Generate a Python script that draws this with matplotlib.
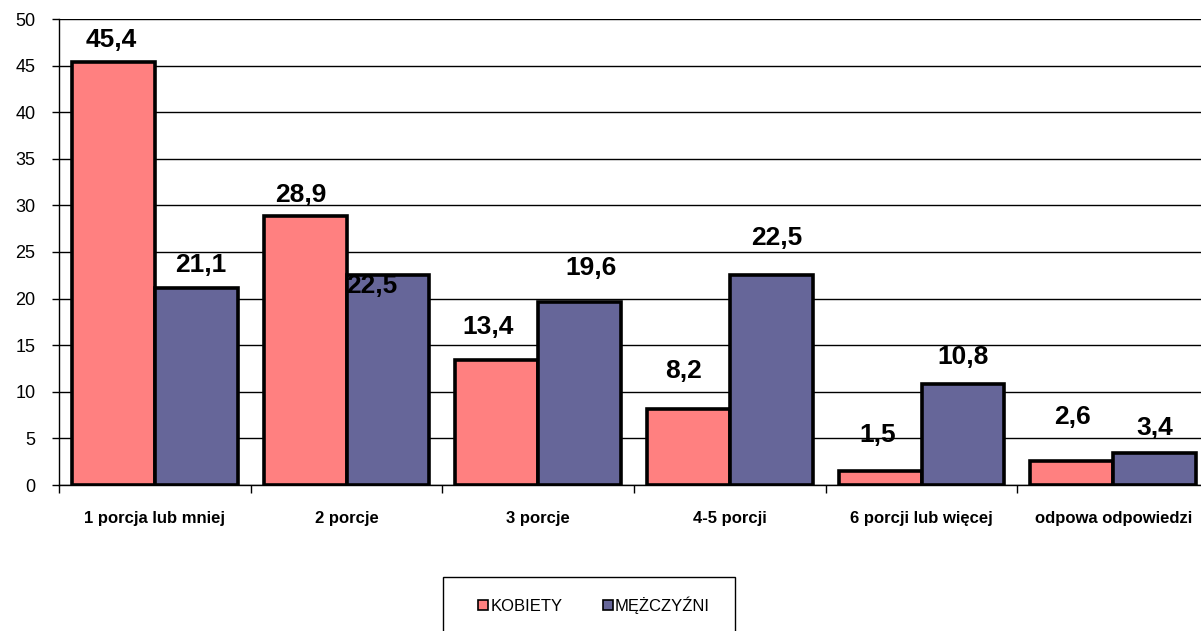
import numpy as np
import matplotlib.pyplot as plt
from matplotlib.patches import Patch, Rectangle

plt.rcParams['font.family'] = ['Liberation Sans', 'DejaVu Sans']

categories = ['1 porcja lub mniej', '2 porcje', '3 porcje', '4-5 porcji',
              '6 porcji lub więcej', 'odpowa odpowiedzi']
kobiety = [45.4, 28.9, 13.4, 8.2, 1.5, 2.6]
mezczyzni = [21.1, 22.5, 19.6, 22.5, 10.8, 3.4]
series_names = ['KOBIETY', 'MĘŻCZYŹNI']

pink = '#FF8080'
navy = '#666699'

# where each value label sits relative to the top of its bar (pixels)
pink_offsets = [(-2, 22), (-4, 21), (-9, 33), (-5, 38), (-2, 36), (1, 44)]
navy_offsets = [(4, 23), (-16, -11), (11, 34), (5, 37), (0, 27), (0, 25)]


def fmt(v):
    return ('%.1f' % v).replace('.', ',')


fig = plt.figure(figsize=(12.01, 6.31), dpi=100)
ax = fig.add_axes([59 / 1201, 146 / 631, 1150 / 1201, 466 / 631])

x = np.arange(len(categories))
w = 0.433
b1 = ax.bar(x - w / 2, kobiety, w, color=pink, edgecolor='black', linewidth=2.6, zorder=3)
b2 = ax.bar(x + w / 2, mezczyzni, w, color=navy, edgecolor='black', linewidth=2.6, zorder=3)

for bars, vals, offs in [(b1, kobiety, pink_offsets), (b2, mezczyzni, navy_offsets)]:
    for bar, v, (dx, dy) in zip(bars, vals, offs):
        ax.annotate(fmt(v), (bar.get_x() + bar.get_width() / 2, v),
                    xytext=(dx, dy), textcoords='offset pixels',
                    ha='center', va='center', fontsize=19, fontweight='bold',
                    zorder=5)

ax.set_xlim(-0.5, len(categories) - 0.5)
ax.set_ylim(0, 50)
ax.set_yticks(range(0, 51, 5))
ax.yaxis.grid(True, color='black', linewidth=1)
ax.set_axisbelow(True)
ax.tick_params(axis='y', labelsize=13, length=5, width=1, pad=12, direction='out')

# category names centred on groups, ticks on the group boundaries
ax.set_xticks(x)
ax.set_xticklabels(categories, fontsize=12, fontweight='bold')
ax.tick_params(axis='x', which='major', length=0, pad=19)
ax.set_xticks(np.arange(-0.5, len(categories) + 0.5, 1), minor=True)
ax.tick_params(axis='x', which='minor', length=6, width=1, direction='out')

for s in ['top', 'right']:
    ax.spines[s].set_visible(False)
ax.spines['left'].set_linewidth(1)
ax.spines['bottom'].set_linewidth(1)

# legend box runs off the bottom edge
fig.patches.append(Rectangle((443 / 1201, -0.05), 292 / 1201, 54 / 631 + 0.05,
                             transform=fig.transFigure, fill=False,
                             edgecolor='black', linewidth=1))
handles = [Patch(facecolor=pink, edgecolor='black', linewidth=1.2),
           Patch(facecolor=navy, edgecolor='black', linewidth=1.2)]
fig.legend(handles, series_names, loc='center',
           bbox_to_anchor=(594 / 1201, 1 - 605 / 631), ncol=2,
           fontsize=12, frameon=False,
           handlelength=0.6, handleheight=0.6, handletextpad=0.15,
           columnspacing=2.4, borderpad=0, borderaxespad=0)

fig.savefig('out.png', dpi=100)
